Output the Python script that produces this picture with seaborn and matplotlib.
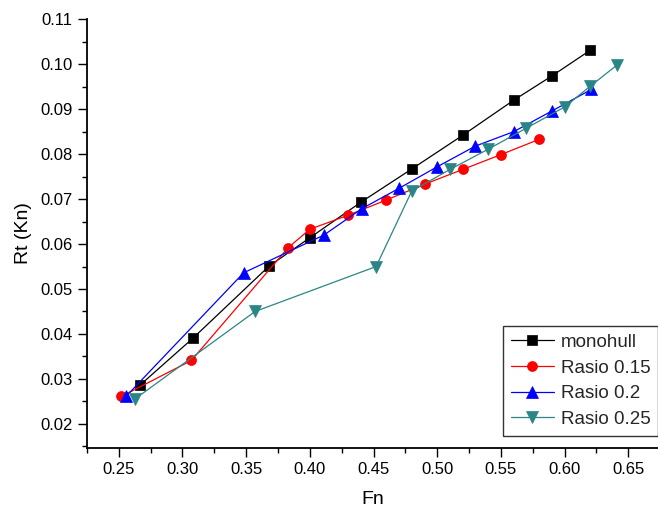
import matplotlib
matplotlib.use("Agg")
import matplotlib.pyplot as plt
from matplotlib.ticker import MultipleLocator, FormatStrFormatter
import seaborn as sns
import pandas as pd

# ---- data ----
fn_mono = [0.267, 0.308, 0.368, 0.400, 0.440, 0.480, 0.520, 0.560, 0.590, 0.620]
rt_mono = [0.0287, 0.0390, 0.0551, 0.0614, 0.0693, 0.0767, 0.0842, 0.0920, 0.0974, 0.1031]

fn_r15 = [0.252, 0.307, 0.383, 0.400, 0.430, 0.460, 0.490, 0.520, 0.550, 0.580]
rt_r15 = [0.0261, 0.0341, 0.0592, 0.0633, 0.0664, 0.0698, 0.0733, 0.0766, 0.0799, 0.0833]

fn_r20 = [0.256, 0.348, 0.411, 0.441, 0.470, 0.500, 0.530, 0.560, 0.590, 0.621]
rt_r20 = [0.0262, 0.0536, 0.0620, 0.0679, 0.0724, 0.0772, 0.0818, 0.0850, 0.0896, 0.0944]

fn_r25 = [0.263, 0.357, 0.452, 0.480, 0.510, 0.540, 0.570, 0.600, 0.620, 0.641]
rt_r25 = [0.0256, 0.0450, 0.0550, 0.0718, 0.0766, 0.0811, 0.0858, 0.0905, 0.0951, 0.0998]

series_names = ["monohull", "Rasio 0.15", "Rasio 0.2", "Rasio 0.25"]
series_x = [fn_mono, fn_r15, fn_r20, fn_r25]
series_y = [rt_mono, rt_r15, rt_r20, rt_r25]

x_label = "Fn"
y_label = "Rt (Kn)"

# ---- styling ----
colors = {"monohull": "#000000", "Rasio 0.15": "#ff0000",
          "Rasio 0.2": "#0000ff", "Rasio 0.25": "#2a8686"}
markers = {"monohull": "s", "Rasio 0.15": "o", "Rasio 0.2": "^", "Rasio 0.25": "v"}
msizes = {"monohull": 6.5, "Rasio 0.15": 7.2, "Rasio 0.2": 8.0, "Rasio 0.25": 8.0}

sns.set_theme(style="ticks")
plt.rcParams["font.family"] = ["Liberation Sans", "DejaVu Sans"]

W, H = 658, 507
fig = plt.figure(figsize=(W / 100, H / 100), dpi=100)
left_px, right_px, top_px, bot_px = 86.9, 658.0, 19.3, 447.7
ax = fig.add_axes([left_px / W, 1 - bot_px / H, (right_px - left_px) / W, (bot_px - top_px) / H])

frames = []
for name, xs, ys in zip(series_names, series_x, series_y):
    frames.append(pd.DataFrame({"Fn": xs, "Rt": ys, "series": name}))
df = pd.concat(frames, ignore_index=True)

for name in series_names:
    sub = df[df["series"] == name]
    sns.lineplot(data=sub, x="Fn", y="Rt", ax=ax, color=colors[name],
                 marker=markers[name], markersize=msizes[name],
                 markeredgecolor=colors[name], markeredgewidth=0.5,
                 linewidth=0.9, estimator=None, sort=False, label=name)

ax.set_xlim(0.225, 0.225 + (right_px - left_px) / 1274.0)
ax.set_ylim(0.0147, 0.110)

ax.xaxis.set_major_locator(MultipleLocator(0.05))
ax.xaxis.set_minor_locator(MultipleLocator(0.025))
ax.yaxis.set_major_locator(MultipleLocator(0.01))
ax.yaxis.set_minor_locator(MultipleLocator(0.005))
ax.xaxis.set_major_formatter(FormatStrFormatter("%.2f"))
ax.yaxis.set_major_formatter(FormatStrFormatter("%.2f"))

ax.tick_params(which="major", direction="out", length=6.5, width=1.0,
               labelsize=12, pad=3.5, color="black", labelcolor="black")
ax.tick_params(which="minor", direction="out", length=3.5, width=1.0, color="black")
ax.tick_params(axis="y", which="major", pad=4.0)

for s in ["top", "right"]:
    ax.spines[s].set_visible(False)
for s in ["left", "bottom"]:
    ax.spines[s].set_linewidth(1.3)
    ax.spines[s].set_color("black")

ax.set_xlabel(x_label, fontsize=14, color="black")
ax.set_ylabel(y_label, fontsize=14, color="black")
ax.yaxis.set_label_coords(-0.097, 0.5)
ax.xaxis.set_label_coords(0.5, -0.1)

leg = ax.legend(loc="upper left", bbox_to_anchor=(503 / W, 1 - 326 / H),
                bbox_transform=fig.transFigure, borderaxespad=0,
                fontsize=13.5, frameon=True, fancybox=False, framealpha=1,
                edgecolor="#333333", borderpad=0.42, labelspacing=0.45,
                handlelength=2.3, handletextpad=0.35)
leg.get_frame().set_linewidth(1.0)

fig.savefig("out.png", dpi=100)
